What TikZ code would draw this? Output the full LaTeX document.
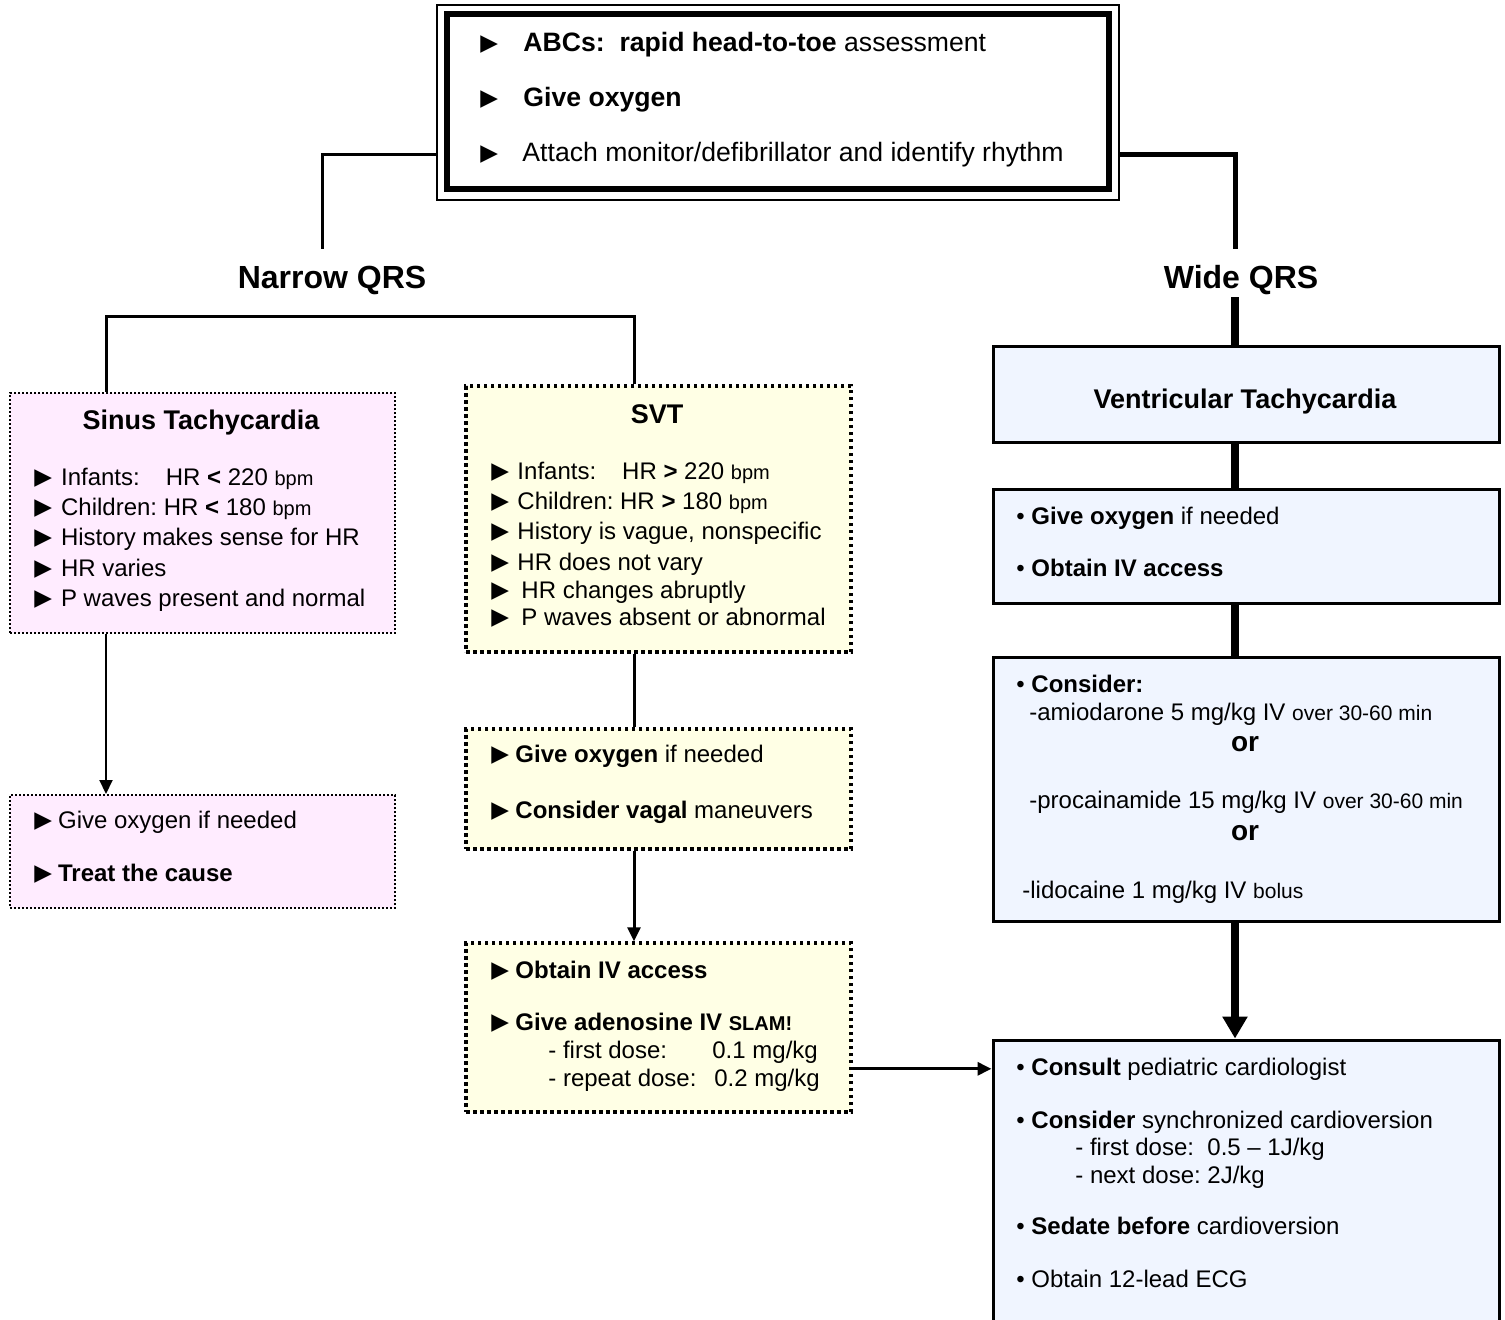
\documentclass[tikz,border=0pt]{standalone}
\usepackage{fontspec}
\setmainfont{Liberation Sans}
\newfontfamily\symfont{DejaVu Sans}
\usetikzlibrary{arrows.meta,fit}
\frenchspacing
\newcommand{\fs}[1]{\fontsize{#1}{#1}\selectfont}
\newcommand{\tri}[1][4.5pt]{\raisebox{0.3pt}{\symfont\fs{11.5}▶}\hspace{#1}}
\definecolor{sinpink}{RGB}{255,236,255}
\definecolor{svtyel}{RGB}{255,255,229}
\definecolor{vtblue}{RGB}{240,245,255}
\begin{document}
\begin{tikzpicture}[x=0.5pt,y=-0.5pt]
        \tikzstyle{every node}+=[inner sep=0pt]
        \tikzstyle{txt}=[anchor=base west,font=\fs{12}]
        \tikzstyle{hd}=[anchor=base,font=\fs{13.5}\bfseries]
        \tikzstyle{qrs}=[anchor=base,font=\fs{16}\bfseries]
        \tikzstyle{sinbox}=[draw,line width=1pt,dash pattern=on 1pt off 1pt,fill=sinpink]
        \tikzstyle{svtbox}=[draw,line width=1.75pt,dash pattern=on 1.75pt off 1.75pt,fill=svtyel]
        \tikzstyle{vtbox}=[draw,line width=1.5pt,fill=vtblue]
        \tikzstyle{tip}=[-{Triangle[width=6.5pt,length=7pt]}]
        \useasboundingbox (0,0) rectangle (1505,1319);
        % top box
        \node [fit={(437,5) (1119,200)},draw,line width=0.75pt] (topout) {};
        \node [fit={(447,14) (1109,189)},draw,line width=3pt] (top) {};
        \node [txt,font=\fs{13.3}] (t1) at (480,51) {\tri[12.7pt]\textbf{ABCs:\ \ rapid head-to-toe} assessment};
        \node [txt,font=\fs{13.3}] (t2) at (480,106) {\tri[12.7pt]\textbf{Give oxygen}};
        \node [txt,font=\fs{13.3}] (t3) at (480,161) {\tri[12.2pt]Attach monitor/defibrillator and identify rhythm};
        \node [qrs] (narrow) at (332,288) {Narrow QRS};
        \node [qrs] (wide) at (1241,288) {Wide QRS};
        \coordinate (nq) at (322,249);
        \coordinate (wq) at (1235,249);
        \coordinate (nl) at (106,316);
        \coordinate (nr) at (634,316);
        \coordinate (wx) at (1235,297);
        % narrow QRS boxes
        \node [sinbox,fit={(10,393) (395,633)}] (sinus) {};
        \node [hd] (st0) at (201,429) {Sinus Tachycardia};
        \node [txt] (st1) at (34,485) {\tri Infants:\hspace{13pt}HR \textbf{<} 220 {\fs{10}bpm}};
        \node [txt] (st2) at (34,515) {\tri Children: HR \textbf{<} 180 {\fs{10}bpm}};
        \node [txt] (st3) at (34,545) {\tri History makes sense for HR};
        \node [txt] (st4) at (34,576) {\tri HR varies};
        \node [txt] (st5) at (34,606) {\tri P waves present and normal};
        \node [sinbox,fit={(10,795) (395,908)}] (sinus2) {};
        \node [txt] (sc1) at (34,828) {\tri[3pt]Give oxygen if needed};
        \node [txt] (sc2) at (34,881) {\tri[3pt]\textbf{Treat the cause}};
        \node [svtbox,fit={(466,386) (851,652)}] (svt) {};
        \node [hd] (sv0) at (657,423) {SVT};
        \node [txt] (sv1) at (491,479) {\tri[4.2pt]Infants:\hspace{13pt}HR \textbf{>} 220 {\fs{10}bpm}};
        \node [txt] (sv2) at (491,509) {\tri[4.2pt]Children: HR \textbf{>} 180 {\fs{10}bpm}};
        \node [txt] (sv3) at (491,539) {\tri[4.2pt]History is vague, nonspecific};
        \node [txt] (sv4) at (491,570) {\tri[4.2pt]HR does not vary};
        \node [txt] (sv5) at (491,598) {\tri[6.2pt]HR changes abruptly};
        \node [txt] (sv6) at (491,625) {\tri[6.2pt]P waves absent or abnormal};
        \node [svtbox,fit={(466,729) (851,849)}] (svt2) {};
        \node [txt] (so1) at (491,762) {\tri[3.2pt]\textbf{Give oxygen} if needed};
        \node [txt] (so2) at (491,818) {\tri[3.2pt]\textbf{Consider vagal} maneuvers};
        \node [svtbox,fit={(466,943) (851,1112)}] (svt3) {};
        \node [txt] (sa1) at (491,978) {\tri[3.2pt]\textbf{Obtain IV access}};
        \node [txt] (sa2) at (491,1030) {\tri[3.2pt]\textbf{Give adenosine IV {\fs{10}SLAM!}}};
        \node [txt] (sa3) at (548,1058) {\makebox[82pt][l]{- first dose:}0.1 mg/kg};
        \node [txt] (sa4) at (548,1086) {\makebox[83pt][l]{- repeat dose:}0.2 mg/kg};
        % wide QRS boxes
        \node [vtbox,fit={(993,346) (1499,442)}] (vt1) {};
        \node [hd] (v0) at (1245,408) {Ventricular Tachycardia};
        \node [vtbox,fit={(993,489) (1499,603)}] (vt2) {};
        \node [txt] (vo1) at (1016,524) {• \textbf{Give oxygen} if needed};
        \node [txt] (vo2) at (1016,576) {• \textbf{Obtain IV access}};
        \node [vtbox,fit={(993,657) (1499,921)}] (vt3) {};
        \node [txt] (vc1) at (1016,692) {• \textbf{Consider:}};
        \node [txt] (vc2) at (1029,720) {-amiodarone 5 mg/kg IV {\fs{10.5}over 30-60 min}};
        \node [anchor=base,font=\fs{14}\bfseries] (or1) at (1245,751) {or};
        \node [txt] (vc3) at (1029,808) {-procainamide 15 mg/kg IV {\fs{10.5}over 30-60 min}};
        \node [anchor=base,font=\fs{14}\bfseries] (or2) at (1245,840) {or};
        \node [txt] (vc4) at (1022,898) {-lidocaine 1 mg/kg IV {\fs{10.5}bolus}};
        \node [vtbox,fit={(993,1040) (1499,1345)}] (vt4) {};
        \node [txt] (c1) at (1016,1075) {• \textbf{Consult} pediatric cardiologist};
        \node [txt] (c2) at (1016,1128) {• \textbf{Consider} synchronized cardioversion};
        \node [txt] (c3) at (1075,1155) {- first dose:\ \ 0.5 -- 1J/kg};
        \node [txt] (c4) at (1075,1183) {- next dose: 2J/kg};
        \node [txt] (c5) at (1016,1234) {• \textbf{Sedate before} cardioversion};
        \node [txt] (c6) at (1016,1287) {• Obtain 12-lead ECG};
        % connectors
        \draw [line width=1.5pt] (topout.west |- t3) -| (nq);
        \draw [line width=2.5pt] (topout.east |- t3) -| (wq);
        \draw [line width=1.5pt] (sinus.north -| nl) -- (nl) -- (nr) -- (svt.north -| nr);
        \draw [line width=1pt,tip] (sinus.south -| nl) -- (sinus2.north -| nl);
        \draw [line width=1.5pt] (svt.south -| nr) -- (svt2.north -| nr);
        \draw [line width=1.5pt,tip] (svt2.south -| nr) -- (svt3.north -| nr);
        \draw [line width=1.5pt,tip] (svt3.east |- c1) -- (vt4.west |- c1);
        \draw [line width=4pt] (wx) -- (vt1.north -| wx);
        \draw [line width=4pt] (vt1.south -| wx) -- (vt2.north -| wx);
        \draw [line width=4pt] (vt2.south -| wx) -- (vt3.north -| wx);
        \draw [line width=4pt,-{Triangle[width=12pt,length=11pt]}] (vt3.south -| wx) -- (vt4.north -| wx);
\end{tikzpicture}
\end{document}
